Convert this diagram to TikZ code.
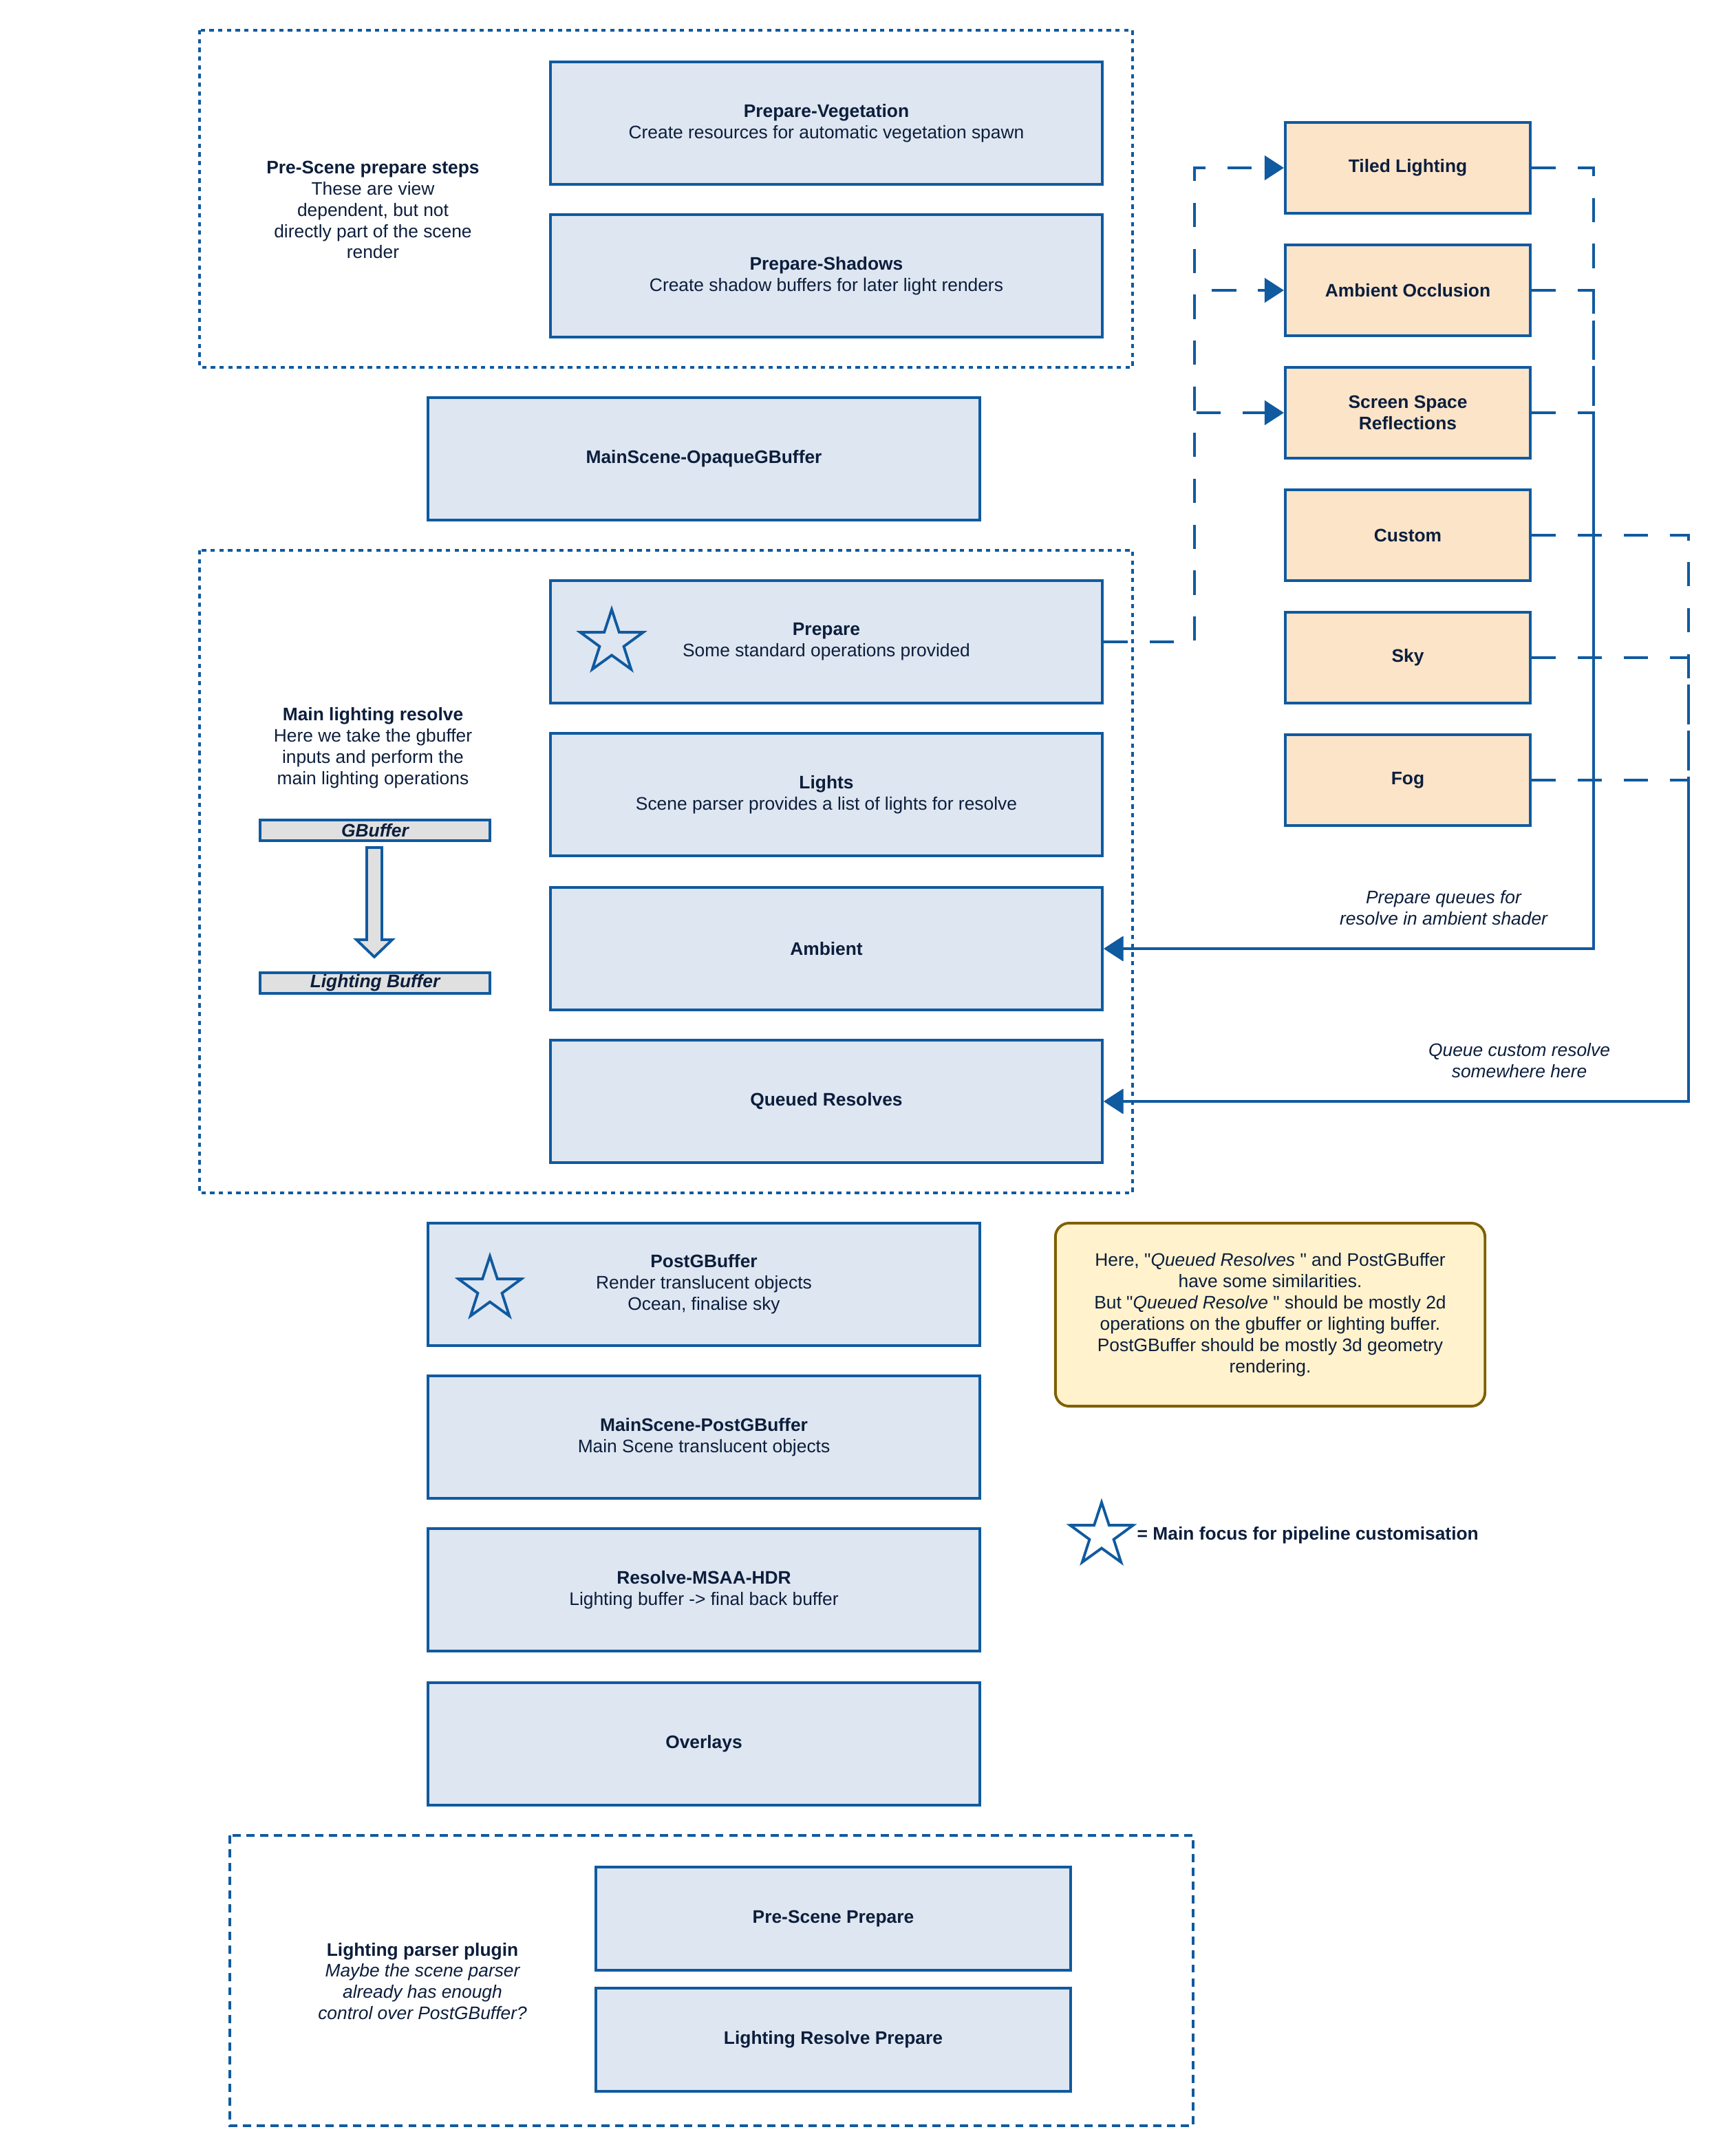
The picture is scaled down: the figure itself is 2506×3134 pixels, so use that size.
\documentclass[tikz,border=0pt]{standalone}
\usepackage{fontspec}
\setmainfont{Liberation Sans}[Ligatures=TeXOff]
\usetikzlibrary{arrows.meta,shapes.geometric}
\definecolor{pipeblue}{RGB}{16,90,160}
\definecolor{passfill}{RGB}{222,230,241}
\definecolor{effectfill}{RGB}{252,228,201}
\definecolor{notefill}{RGB}{255,242,204}
\definecolor{notedraw}{RGB}{127,96,0}
\definecolor{ink}{RGB}{12,30,60}
\definecolor{barfill}{RGB}{224,224,224}

\begin{document}
\begin{tikzpicture}[x=0.01cm,y=-0.01cm,
	font=\fontsize{7.5}{8.8}\selectfont, text=ink,
	pass/.style={draw=pipeblue, line width=1.1pt, fill=passfill, minimum width=8.02cm, minimum height=1.78cm, align=center},
	smallpass/.style={pass, minimum width=6.9cm, minimum height=1.5cm},
	effect/.style={draw=pipeblue, line width=1.1pt, fill=effectfill, minimum width=3.56cm, minimum height=1.32cm, align=center, font=\fontsize{7.5}{8.8}\selectfont\bfseries},
	bufbar/.style={draw=pipeblue, line width=1.1pt, fill=barfill, minimum width=3.34cm, minimum height=0.3cm, inner sep=0pt, font=\fontsize{7.5}{8.8}\selectfont\bfseries\itshape},
	focus/.style={star, star points=5, star point ratio=2.6, draw=pipeblue, line width=1.1pt, minimum size=0.96cm, inner sep=0pt},
	dotgroup/.style={draw=pipeblue, line width=1.1pt, dash pattern=on 1.8pt off 1.8pt},
	dashgroup/.style={draw=pipeblue, line width=1.1pt, dash pattern=on 3.4pt off 2.3pt},
	link/.style={draw=pipeblue, line width=1.3pt, dash pattern=on 10pt off 9pt, -{Triangle[length=8pt,width=10pt]}},
	plain/.style={align=center}]
	\useasboundingbox (0,0) rectangle (2506,3134);

	% group frames
	\draw[dotgroup] (290,44) rectangle (1646,534);
	\draw[dotgroup] (290,800) rectangle (1646,1734);
	\draw[dashgroup] (334,2668) rectangle (1734,3090);

	% pre-scene
	\node[plain] (prelbl) at (542,305) {\textbf{Pre-Scene prepare steps}\\These are view\\dependent, but not\\directly part of the scene\\render};
	\node[pass] (veg) at (1201,179) {\textbf{Prepare-Vegetation}\\Create resources for automatic vegetation spawn};
	\node[pass] (shad) at (1201,401) {\textbf{Prepare-Shadows}\\Create shadow buffers for later light renders};

	\node[pass] (opaque) at (1023,667) {\textbf{MainScene-OpaqueGBuffer}};

	% main lighting resolve
	\node[plain] (mainlbl) at (542,1087) {\textbf{Main lighting resolve}\\Here we take the gbuffer\\inputs and perform the\\main lighting operations};
	\node[bufbar] (gbuf) at (545,1207) {GBuffer};
	\node[bufbar] (lbuf) at (545,1429) {Lighting Buffer};
	\draw[draw=pipeblue, line width=1.1pt, fill=barfill] (533,1232) -- (533,1366) -- (518,1366) -- (544,1391)
		-- (570,1366) -- (555,1366) -- (555,1232) -- cycle;

	\node[pass] (prep) at (1201,933) {\textbf{Prepare}\\Some standard operations provided};
	\node[focus] (prepstar) at (889,934) {};
	\node[pass] (lights) at (1201,1155) {\textbf{Lights}\\Scene parser provides a list of lights for resolve};
	\node[pass] (amb) at (1201,1379) {\textbf{Ambient}};
	\node[pass] (queued) at (1201,1601) {\textbf{Queued Resolves}};

	% after lighting
	\node[pass] (postg) at (1023,1867) {\textbf{PostGBuffer}\\Render translucent objects\\Ocean, finalise sky};
	\node[focus] (poststar) at (712,1874) {};
	\node[pass] (mspost) at (1023,2089) {\textbf{MainScene-PostGBuffer}\\Main Scene translucent objects};
	\node[pass] (msaa) at (1023,2311) {\textbf{Resolve-MSAA-HDR}\\Lighting buffer -> final back buffer};
	\node[pass] (overlays) at (1023,2535) {\textbf{Overlays}};

	% lighting parser plugin
	\node[plain] (pluginlbl) at (614,2880) {\textbf{Lighting parser plugin}\\\itshape Maybe the scene parser\\\itshape already has enough\\\itshape control over PostGBuffer?};
	\node[smallpass] (psprep) at (1211,2789) {\textbf{Pre-Scene Prepare}};
	\node[smallpass] (lrprep) at (1211,2965) {\textbf{Lighting Resolve Prepare}};

	% lighting effects
	\node[effect] (tiled) at (2046,244) {Tiled Lighting};
	\node[effect] (ao) at (2046,422) {Ambient Occlusion};
	\node[effect] (ssr) at (2046,600) {Screen Space\\Reflections};
	\node[effect] (custom) at (2046,778) {Custom};
	\node[effect] (sky) at (2046,956) {Sky};
	\node[effect] (fog) at (2046,1134) {Fog};

	\draw[link] (prep.east) -- ++(132,0) |- (tiled.west);
	\draw[link] (prep.east) -- ++(132,0) |- (ao.west);
	\draw[link] (prep.east) -- ++(132,0) |- (ssr.west);

	\draw[link] (tiled.east) -- ++(90,0) |- (amb.east);
	\draw[link] (ao.east) -- ++(90,0) |- (amb.east);
	\draw[link] (ssr.east) -- ++(90,0) |- (amb.east);

	\draw[link] (custom.east) -- ++(228,0) |- (queued.east);
	\draw[link] (sky.east) -- ++(228,0) |- (queued.east);
	\draw[link] (fog.east) -- ++(228,0) |- (queued.east);

	\node[plain, font=\fontsize{7.5}{8.8}\selectfont\itshape] (amblbl) at (2098,1320) {Prepare queues for\\resolve in ambient shader};
	\node[plain, font=\fontsize{7.5}{8.8}\selectfont\itshape] (queuelbl) at (2208,1542) {Queue custom resolve\\somewhere here};

	% note and legend
	\node[draw=notedraw, line width=1.1pt, fill=notefill, rounded corners=0.2cm, minimum width=6.24cm, minimum height=2.66cm, align=center] (note) at (1846,1911)
		{Here, "\textit{Queued Resolves} " and PostGBuffer\\have some similarities.\\But "\textit{Queued Resolve} " should be mostly 2d\\operations on the gbuffer or lighting buffer.\\PostGBuffer should be mostly 3d geometry\\rendering.};
	\node[focus] (legstar) at (1601,2232) {};
	\node[anchor=west, font=\fontsize{7.5}{8.8}\selectfont\bfseries, inner sep=0pt] (legend) at (1652,2232) {= Main focus for pipeline customisation};
\end{tikzpicture}
\end{document}
